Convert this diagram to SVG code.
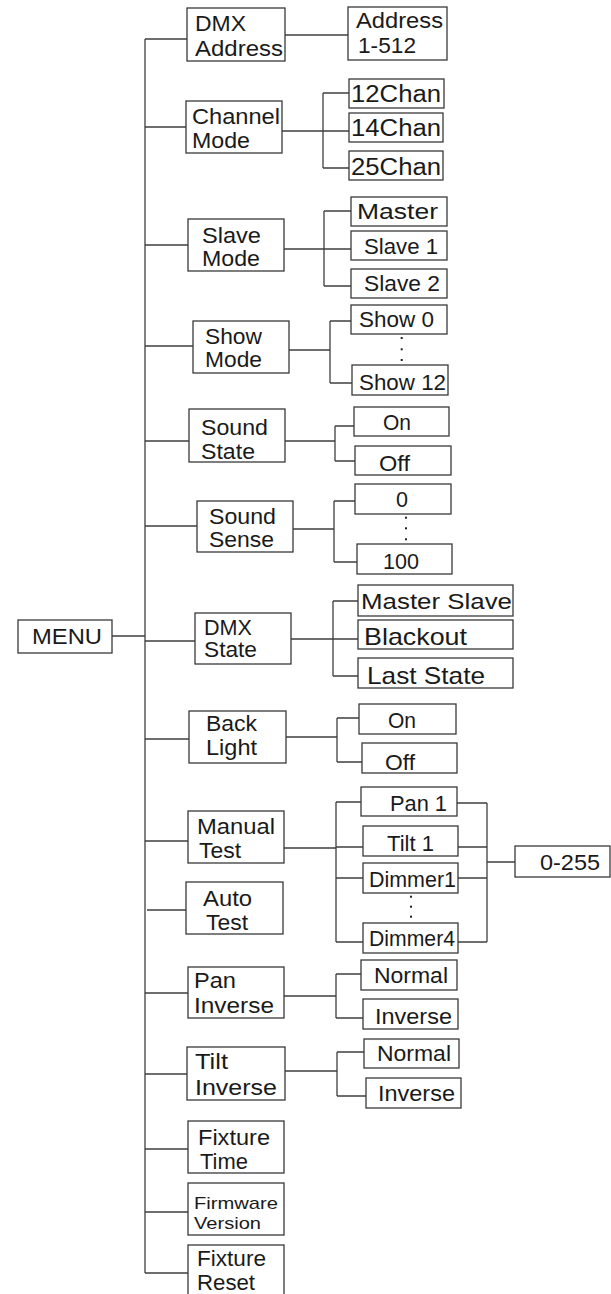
<svg xmlns="http://www.w3.org/2000/svg" width="611" height="1294" viewBox="0 0 611 1294">
<style>
.b{fill:#fff;stroke:#3a3a3a;stroke-width:1.3}
.t{font-family:"Liberation Sans",Arial,sans-serif;font-size:22px;fill:#1a1a1a}
.l{font-size:24px}
.m{font-size:23.5px}
.s{font-size:17px}
.c{fill:none;stroke:#3f3f3f;stroke-width:1.3}
.d{fill:#222}
</style>
<rect width="611" height="1294" fill="#fff"/>
<g id="connectors" class="c">
<path d="M145,39V1273"/>
<path d="M145,39H187M145,127H186M145,245H188M145,346H193M145,441H189M145,526H197M112,636H145M145,641H195M145,739H189M145,841H188M147,910H186M145,993H188M145,1074H187M145,1149H188M145,1212H188M145,1273H188"/>
<path d="M285,35H348"/>
<path d="M282,131H323M323,93V168M323,93H349M323,131H349M323,168H349"/>
<path d="M284,249H324M324,211V286M324,211H351M324,249H351M324,286H351"/>
<path d="M289,350H330M330,321V383M330,321H351M330,383H352"/>
<path d="M285,441H335M335,426V461M335,426H354M335,461H355"/>
<path d="M293,529H334M334,501V562M334,501H355M334,562H357"/>
<path d="M291,639H333M333,601V676M333,601H358M333,639H358M333,676H358"/>
<path d="M286,737H337M337,718V762M337,718H359M337,762H362"/>
<path d="M284,848H336M336,802V942M336,802H361M336,847H363M336,878H363M336,942H363"/>
<path d="M457,803H487M458,847H487M458,878H487M458,942H487M487,803V942M487,862H515"/>
<path d="M284,996H336M336,974V1018M336,974H361M336,1018H363"/>
<path d="M285,1071H337M337,1052V1096M337,1052H364M337,1096H366"/>
</g>
<g id="menu"><rect class="b" x="18" y="620" width="94" height="33"/><text class="t" x="32" y="644" textLength="70" lengthAdjust="spacingAndGlyphs">MENU</text></g>
<g id="dmx-address"><rect class="b" x="187" y="8" width="98" height="53"/><text class="t" x="195" y="31" textLength="51" lengthAdjust="spacingAndGlyphs">DMX</text><text class="t" x="195" y="56" textLength="88" lengthAdjust="spacingAndGlyphs">Address</text></g>
<g id="address-1-512"><rect class="b" x="348" y="7" width="99" height="53"/><text class="t" x="356" y="28" textLength="87" lengthAdjust="spacingAndGlyphs">Address</text><text class="t" x="358" y="53" textLength="58" lengthAdjust="spacingAndGlyphs">1-512</text></g>
<g id="channel-mode"><rect class="b" x="186" y="101" width="96" height="52"/><text class="t" x="192" y="124" textLength="88" lengthAdjust="spacingAndGlyphs">Channel</text><text class="t" x="192" y="148" textLength="58" lengthAdjust="spacingAndGlyphs">Mode</text></g>
<g id="chan12"><rect class="b" x="349" y="79" width="95" height="29"/><text class="t m" x="351" y="101.5" textLength="90" lengthAdjust="spacingAndGlyphs">12Chan</text></g>
<g id="chan14"><rect class="b" x="349" y="113" width="94" height="29"/><text class="t m" x="351" y="136" textLength="90" lengthAdjust="spacingAndGlyphs">14Chan</text></g>
<g id="chan25"><rect class="b" x="349" y="151" width="94" height="29"/><text class="t m" x="351" y="175" textLength="90" lengthAdjust="spacingAndGlyphs">25Chan</text></g>
<g id="slave-mode"><rect class="b" x="188" y="219" width="96" height="52"/><text class="t" x="202" y="243" textLength="59" lengthAdjust="spacingAndGlyphs">Slave</text><text class="t" x="202" y="266" textLength="58" lengthAdjust="spacingAndGlyphs">Mode</text></g>
<g id="master"><rect class="b" x="351" y="197" width="96" height="29"/><text class="t" x="357" y="218.5" textLength="81" lengthAdjust="spacingAndGlyphs">Master</text></g>
<g id="slave1"><rect class="b" x="351" y="231" width="96" height="29"/><text class="t" x="364" y="253.5" textLength="74" lengthAdjust="spacingAndGlyphs">Slave 1</text></g>
<g id="slave2"><rect class="b" x="351" y="269" width="96" height="29"/><text class="t" x="364" y="291" textLength="76" lengthAdjust="spacingAndGlyphs">Slave 2</text></g>
<g id="show-mode"><rect class="b" x="193" y="321" width="96" height="52"/><text class="t" x="205" y="343.5" textLength="57" lengthAdjust="spacingAndGlyphs">Show</text><text class="t" x="205" y="367" textLength="57" lengthAdjust="spacingAndGlyphs">Mode</text></g>
<g id="show0"><rect class="b" x="351" y="305" width="96" height="29"/><text class="t" x="359" y="327" textLength="75" lengthAdjust="spacingAndGlyphs">Show 0</text></g>
<g id="show-dots"><rect class="d" x="400.7" y="337" width="2" height="2"/><rect class="d" x="400.7" y="348.3" width="2" height="2"/><rect class="d" x="400.7" y="359" width="2" height="2"/></g>
<g id="show12"><rect class="b" x="352" y="365" width="96" height="30"/><text class="t" x="359" y="390" textLength="87" lengthAdjust="spacingAndGlyphs">Show 12</text></g>
<g id="sound-state"><rect class="b" x="189" y="409" width="96" height="53"/><text class="t" x="201" y="435" textLength="67" lengthAdjust="spacingAndGlyphs">Sound</text><text class="t" x="201" y="458.5" textLength="54" lengthAdjust="spacingAndGlyphs">State</text></g>
<g id="sound-on"><rect class="b" x="354" y="407" width="95" height="29"/><text class="t" x="383" y="430" textLength="28" lengthAdjust="spacingAndGlyphs">On</text></g>
<g id="sound-off"><rect class="b" x="355" y="446" width="96" height="29"/><text class="t" x="379" y="470.5" textLength="31" lengthAdjust="spacingAndGlyphs">Off</text></g>
<g id="sound-sense"><rect class="b" x="197" y="501" width="96" height="51"/><text class="t" x="209" y="523.5" textLength="67" lengthAdjust="spacingAndGlyphs">Sound</text><text class="t" x="209" y="547" textLength="65" lengthAdjust="spacingAndGlyphs">Sense</text></g>
<g id="sense0"><rect class="b" x="355" y="484" width="96" height="30"/><text class="t" x="396" y="507" textLength="12" lengthAdjust="spacingAndGlyphs">0</text></g>
<g id="sense-dots"><rect class="d" x="405" y="516.7" width="2" height="2"/><rect class="d" x="405" y="527.3" width="2" height="2"/><rect class="d" x="405" y="538.3" width="2" height="2"/></g>
<g id="sense100"><rect class="b" x="357" y="544" width="95" height="30"/><text class="t" x="383" y="568.5" textLength="36" lengthAdjust="spacingAndGlyphs">100</text></g>
<g id="dmx-state"><rect class="b" x="195" y="613" width="96" height="51"/><text class="t" x="204" y="634.5" textLength="48" lengthAdjust="spacingAndGlyphs">DMX</text><text class="t" x="204" y="657" textLength="53" lengthAdjust="spacingAndGlyphs">State</text></g>
<g id="master-slave"><rect class="b" x="358" y="585" width="155" height="31"/><text class="t" x="361" y="608.5" textLength="151" lengthAdjust="spacingAndGlyphs">Master Slave</text></g>
<g id="blackout"><rect class="b" x="358" y="620" width="155" height="29"/><text class="t l" x="364" y="644.5" textLength="103" lengthAdjust="spacingAndGlyphs">Blackout</text></g>
<g id="last-state"><rect class="b" x="358" y="658" width="155" height="30"/><text class="t l" x="367" y="684" textLength="118" lengthAdjust="spacingAndGlyphs">Last State</text></g>
<g id="back-light"><rect class="b" x="189" y="711" width="97" height="52"/><text class="t" x="206" y="731" textLength="51" lengthAdjust="spacingAndGlyphs">Back</text><text class="t" x="206" y="754.5" textLength="51" lengthAdjust="spacingAndGlyphs">Light</text></g>
<g id="light-on"><rect class="b" x="359" y="704" width="97" height="30"/><text class="t" x="388" y="727.5" textLength="28" lengthAdjust="spacingAndGlyphs">On</text></g>
<g id="light-off"><rect class="b" x="362" y="743" width="95" height="30"/><text class="t" x="385" y="769.5" textLength="30" lengthAdjust="spacingAndGlyphs">Off</text></g>
<g id="manual-test"><rect class="b" x="188" y="811" width="96" height="52"/><text class="t" x="197" y="834" textLength="78" lengthAdjust="spacingAndGlyphs">Manual</text><text class="t" x="199" y="857.5" textLength="42" lengthAdjust="spacingAndGlyphs">Test</text></g>
<g id="pan1"><rect class="b" x="361" y="787" width="96" height="29"/><text class="t" x="390" y="810.5" textLength="57" lengthAdjust="spacingAndGlyphs">Pan 1</text></g>
<g id="tilt1"><rect class="b" x="363" y="826" width="95" height="30"/><text class="t" x="387" y="851" textLength="47" lengthAdjust="spacingAndGlyphs">Tilt 1</text></g>
<g id="dimmer1"><rect class="b" x="363" y="863" width="95" height="30"/><text class="t" x="369" y="886.5" textLength="87" lengthAdjust="spacingAndGlyphs">Dimmer1</text></g>
<g id="dimmer-dots"><rect class="d" x="410" y="895.7" width="2" height="2"/><rect class="d" x="410" y="905.7" width="2" height="2"/><rect class="d" x="410" y="915.7" width="2" height="2"/></g>
<g id="dimmer4"><rect class="b" x="363" y="923" width="95" height="30"/><text class="t" x="369" y="945.5" textLength="86" lengthAdjust="spacingAndGlyphs">Dimmer4</text></g>
<g id="range-0-255"><rect class="b" x="515" y="846" width="95" height="31"/><text class="t" x="540" y="869.5" textLength="60" lengthAdjust="spacingAndGlyphs">0-255</text></g>
<g id="auto-test"><rect class="b" x="186" y="882" width="97" height="52"/><text class="t" x="203" y="906" textLength="49" lengthAdjust="spacingAndGlyphs">Auto</text><text class="t" x="206" y="930" textLength="42" lengthAdjust="spacingAndGlyphs">Test</text></g>
<g id="pan-inverse"><rect class="b" x="188" y="967" width="96" height="51"/><text class="t" x="194" y="988" textLength="42" lengthAdjust="spacingAndGlyphs">Pan</text><text class="t" x="194" y="1013" textLength="80" lengthAdjust="spacingAndGlyphs">Inverse</text></g>
<g id="pan-normal"><rect class="b" x="361" y="960" width="96" height="30"/><text class="t" x="374" y="983" textLength="74" lengthAdjust="spacingAndGlyphs">Normal</text></g>
<g id="pan-inv"><rect class="b" x="363" y="999" width="95" height="30"/><text class="t" x="375" y="1023.5" textLength="77" lengthAdjust="spacingAndGlyphs">Inverse</text></g>
<g id="tilt-inverse"><rect class="b" x="187" y="1047" width="98" height="53"/><text class="t" x="195" y="1068.5" textLength="33" lengthAdjust="spacingAndGlyphs">Tilt</text><text class="t" x="195" y="1094.5" textLength="82" lengthAdjust="spacingAndGlyphs">Inverse</text></g>
<g id="tilt-normal"><rect class="b" x="364" y="1039" width="95" height="29"/><text class="t" x="377" y="1061" textLength="74" lengthAdjust="spacingAndGlyphs">Normal</text></g>
<g id="tilt-inv"><rect class="b" x="366" y="1078" width="95" height="30"/><text class="t" x="378" y="1101" textLength="77" lengthAdjust="spacingAndGlyphs">Inverse</text></g>
<g id="fixture-time"><rect class="b" x="188" y="1121" width="96" height="52"/><text class="t" x="198" y="1144.5" textLength="72" lengthAdjust="spacingAndGlyphs">Fixture</text><text class="t" x="200" y="1168.5" textLength="48" lengthAdjust="spacingAndGlyphs">Time</text></g>
<g id="firmware-version"><rect class="b" x="188" y="1183" width="96" height="52"/><text class="t s" x="194" y="1208.5" textLength="84" lengthAdjust="spacingAndGlyphs">Firmware</text><text class="t s" x="194" y="1228.5" textLength="67" lengthAdjust="spacingAndGlyphs">Version</text></g>
<g id="fixture-reset"><rect class="b" x="188" y="1245" width="96" height="60"/><text class="t" x="197" y="1266" textLength="69" lengthAdjust="spacingAndGlyphs">Fixture</text><text class="t" x="197" y="1289.5" textLength="58" lengthAdjust="spacingAndGlyphs">Reset</text></g>
</svg>
